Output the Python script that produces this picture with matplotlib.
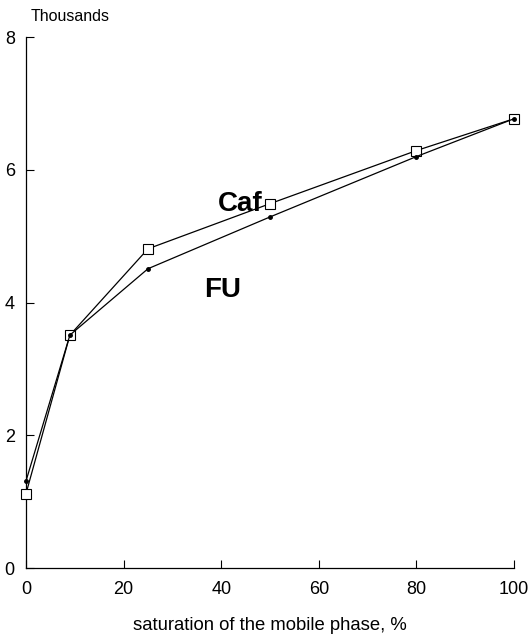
import numpy as np
import matplotlib
matplotlib.use('Agg')
import matplotlib.pyplot as plt

plt.rcParams['font.family'] = ['Liberation Sans', 'DejaVu Sans']

# data (y in thousands)
sat = [0, 9, 25, 50, 80, 100]
caf = [1.12, 3.51, 4.81, 5.49, 6.29, 6.77]
fu = [1.31, 3.51, 4.51, 5.29, 6.2, 6.77]
xticks = [0, 20, 40, 60, 80, 100]
yticks = [0, 2, 4, 6, 8]

fig = plt.figure(figsize=(5.3, 6.39), dpi=100)
ax = fig.add_axes([0.049, 0.111, 0.921, 0.831])

ax.plot(sat, caf, 'k-', lw=0.9, marker='s', ms=7.3, mfc='white', mec='black',
        mew=0.8, zorder=3, clip_on=False)
ax.plot(sat, fu, 'k-', lw=0.9, marker='o', ms=2.5, mfc='black', mec='black',
        zorder=4, clip_on=False)

ax.set_xlim(0, 100)
ax.set_ylim(0, 8)
ax.set_xticks(xticks)
ax.set_yticks(yticks)
ax.tick_params(direction='in', length=6, width=0.8, labelsize=13, pad=9)
ax.tick_params(axis='y', pad=8)
ax.spines['top'].set_visible(False)
ax.spines['right'].set_visible(False)
for s in ['left', 'bottom']:
    ax.spines[s].set_linewidth(0.9)

ax.set_xlabel('saturation of the mobile phase, %', fontsize=13.3, labelpad=14)
fig.text(0.057, 0.962, 'Thousands', fontsize=11.5, ha='left', va='bottom')

ax.text(48.5, 5.49, 'Caf', fontsize=20, fontweight='bold', ha='right', va='center')
ax.text(44, 4.19, 'FU', fontsize=20, fontweight='bold', ha='right', va='center')

fig.savefig('out.png', dpi=100)
